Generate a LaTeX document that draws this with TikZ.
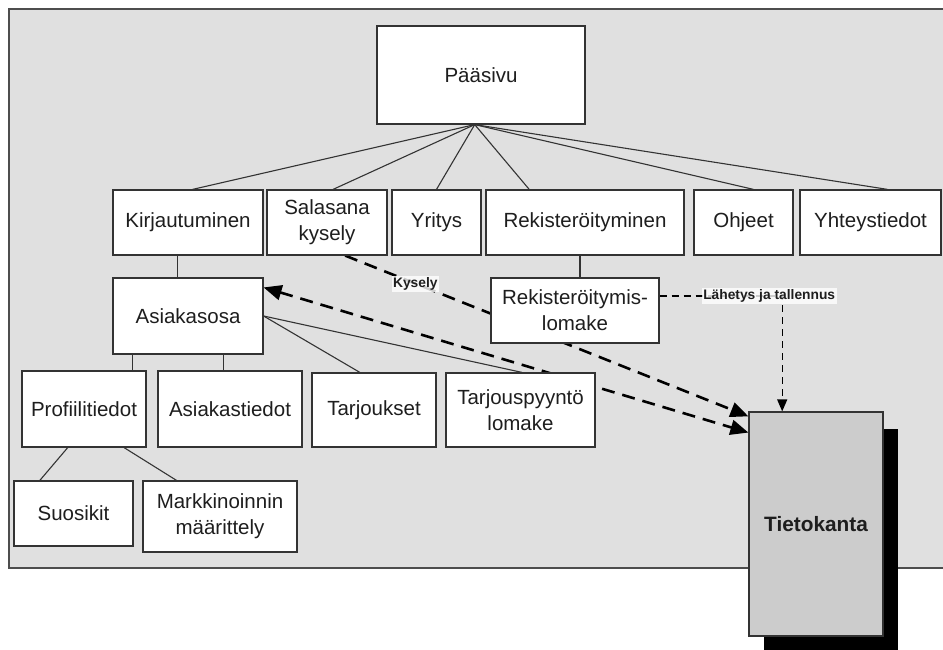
\documentclass[tikz,border=0pt]{standalone}
\usepackage{fontspec}
\setmainfont{Liberation Sans}
\usetikzlibrary{arrows.meta,calc}
\pgfdeclarelayer{canvas}
\pgfdeclarelayer{links}
\pgfsetlayers{canvas,links,main}
\definecolor{edgegray}{HTML}{333333}
\definecolor{panelfill}{HTML}{E0E0E0}
\definecolor{panelline}{HTML}{4D4D4D}
\definecolor{dbfill}{HTML}{CCCCCC}
\definecolor{txt}{HTML}{1E1E1E}
\tikzset{
  page/.style={draw=edgegray, line width=1.2pt, fill=white, inner sep=0pt,
    align=center, text=txt, font=\fontsize{20.5}{26}\selectfont},
  tree/.style={draw=edgegray, line width=1.1pt},
  bigtip/.tip={Triangle[length=18pt,width=15pt]},
  flow/.style={draw=black, line width=2.6pt, dash pattern=on 13pt off 8pt},
  notice/.style={draw=black, line width=1.3pt, dash pattern=on 7pt off 5pt,
    -{Triangle[length=12pt,width=10pt]}},
  lbl/.style={font=\bfseries\fontsize{13.8}{16}\selectfont, fill=white,
    fill opacity=0.8, text opacity=1, inner sep=1.5pt, text=txt}
}
\begin{document}
\begin{tikzpicture}[x=1pt,y=-1pt]
\useasboundingbox (0,0) rectangle (943,650);

% background panel
\begin{pgfonlayer}{canvas}
  \fill[panelfill] (9,9) rectangle (960,568);
  \draw[panelline, line width=1.5pt] (960,9) -- (9,9) -- (9,568) -- (960,568);
\end{pgfonlayer}

% pages
\node[page, minimum width=208pt, minimum height=98pt] (paa) at (481,75) {Pääsivu};

\node[page, minimum width=150pt, minimum height=65pt] (kirj) at (188,222.5) {Kirjautuminen};
\node[page, minimum width=120pt, minimum height=65pt] (sala) at (327,222.5) {Salasana\\kysely};
\node[page, minimum width=89pt,  minimum height=65pt] (yri)  at (436.5,222.5) {Yritys};
\node[page, minimum width=198pt, minimum height=65pt] (rek)  at (585,222.5) {Rekisteröityminen};
\node[page, minimum width=99pt,  minimum height=65pt] (ohj)  at (743.5,222.5) {Ohjeet};
\node[page, minimum width=141pt, minimum height=65pt] (yht)  at (870.5,222.5) {Yhteystiedot};

\node[page, minimum width=150pt, minimum height=76pt] (asi)    at (188,316) {Asiakasosa};
\node[page, minimum width=168pt, minimum height=65pt] (reklom) at (575,310.5) {Rekisteröitymis-\\lomake};

\node[page, minimum width=124pt, minimum height=76pt] (prof)  at (84,409) {Profiilitiedot};
\node[page, minimum width=144pt, minimum height=76pt] (asti)  at (230,409) {Asiakastiedot};
\node[page, minimum width=124pt, minimum height=74pt] (tarj)  at (374,410) {Tarjoukset};
\node[page, minimum width=149pt, minimum height=74pt] (tarjp) at (520.5,410) {Tarjouspyyntö\\lomake};

\node[page, minimum width=119pt, minimum height=65pt] (suo)  at (73.5,513.5) {Suosikit};
\node[page, minimum width=154pt, minimum height=71pt] (mark) at (220,516.5) {Markkinoinnin\\määrittely};

% database with drop shadow
\node[fill=black, inner sep=0pt, minimum width=134pt, minimum height=224pt] (dbshadow) at (831,541) {};
\node[page, fill=dbfill, minimum width=134pt, minimum height=224pt,
      font=\bfseries\fontsize{20.8}{24}\selectfont] (tieto) at (816,524) {Tietokanta};

\begin{pgfonlayer}{links}
  % main page fan-out
  \coordinate (hub) at ($(paa.south west)!0.47!(paa.south east)$);
  \draw[tree] (hub) -- ($(kirj.north west)!0.53!(kirj.north east)$);
  \draw[tree] (hub) -- ($(sala.north west)!0.55!(sala.north east)$);
  \draw[tree] (hub) -- ($(yri.north west)!0.5!(yri.north east)$);
  \draw[tree] (hub) -- ($(rek.north west)!0.22!(rek.north east)$);
  \draw[tree] (hub) -- ($(ohj.north west)!0.6!(ohj.north east)$);
  \draw[tree] (hub) -- ($(yht.north west)!0.62!(yht.north east)$);

  % sub pages
  \coordinate (k1) at ($(kirj.south west)!0.43!(kirj.south east)$);
  \draw[tree] (k1) -- (k1 |- asi.north);
  \coordinate (r1) at ($(rek.south west)!0.475!(rek.south east)$);
  \draw[tree] (r1) -- (r1 |- reklom.north);
  \coordinate (a1) at ($(asi.south west)!0.133!(asi.south east)$);
  \draw[tree] (a1) -- (a1 |- prof.north);
  \coordinate (a2) at ($(asi.south west)!0.733!(asi.south east)$);
  \draw[tree] (a2) -- (a2 |- asti.north);
  \draw[tree] (asi.east) -- ($(tarj.north west)!0.387!(tarj.north east)$);
  \draw[tree] (asi.east) -- ($(tarjp.north west)!0.51!(tarjp.north east)$);
  \draw[tree] ($(prof.south west)!0.37!(prof.south east)$) -- ($(suo.north west)!0.22!(suo.north east)$);
  \draw[tree] ($(prof.south west)!0.82!(prof.south east)$) -- ($(mark.north west)!0.22!(mark.north east)$);

  % data flows to the database
  \draw[flow, -bigtip] ($(sala.south west)!0.65!(sala.south east)$)
    -- node[lbl, pos=0.174] {Kysely} ($(tieto.north west)!0.022!(tieto.south west)$);
  \draw[flow, bigtip-bigtip] ($(asi.north east)!0.13!(asi.south east)$)
    -- ($(tieto.north west)!0.094!(tieto.south west)$);
  \draw[notice] ($(reklom.north east)!0.28!(reklom.south east)$)
    -| node[lbl, pos=0.5, xshift=-13pt] {Lähetys ja tallennus}
    ($(tieto.north west)!0.25!(tieto.north east)$);
\end{pgfonlayer}
\end{tikzpicture}
\end{document}
